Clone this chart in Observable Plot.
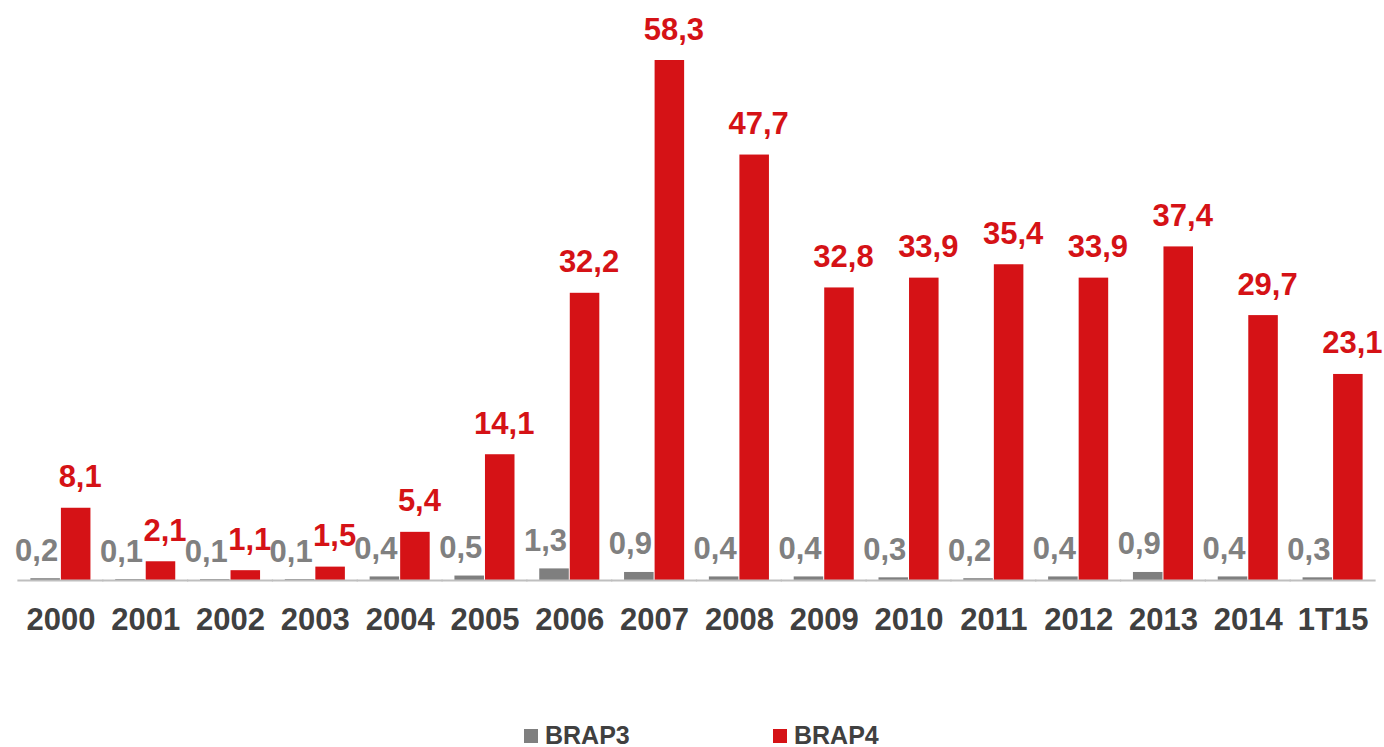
<!DOCTYPE html>
<html>
<head>
<meta charset="utf-8">
<script src="https://cdn.jsdelivr.net/npm/d3@7"></script>
<script src="https://cdn.jsdelivr.net/npm/@observablehq/plot@0.6"></script>
<style>
  html, body { margin: 0; padding: 0; background: #fff; }
  body { width: 1384px; height: 747px; overflow: hidden; font-family: "Liberation Sans", Arial, sans-serif; }
  #chart svg { display: block; }
  #legend { position: relative; height: 35px; }
  .item { position: absolute; top: 11px; display: flex; align-items: center; font-weight: bold; font-size: 25px; color: #404040; line-height: 25px; }
  .sw { width: 14px; height: 14px; margin-right: 7px; }
</style>
</head>
<body>
<div id="chart"></div>
<div id="legend"></div>
<script>
const categories = ["2000","2001","2002","2003","2004","2005","2006","2007","2008","2009","2010","2011","2012","2013","2014","1T15"];
const seriesNames = ["BRAP3", "BRAP4"];
const brap3 = [0.2,0.1,0.1,0.1,0.4,0.5,1.3,0.9,0.4,0.4,0.3,0.2,0.4,0.9,0.4,0.3];
const brap4 = [8.1,2.1,1.1,1.5,5.4,14.1,32.2,58.3,47.7,32.8,33.9,35.4,33.9,37.4,29.7,23.1];
const colors = ["#7f7f7f", "#d51216"];
const labelColors = ["#808080", "#d51216"];

const data = [];
categories.forEach((c, i) => {
  data.push({year: c, series: seriesNames[0], value: brap3[i]});
  data.push({year: c, series: seriesNames[1], value: brap4[i]});
});
const fmt = v => v.toFixed(1).replace(".", ",");
const font = "Liberation Sans, Arial, sans-serif";

const chart = Plot.plot({
  width: 1384,
  height: 712,
  marginTop: 60,
  marginBottom: 132,
  marginLeft: 18,
  marginRight: 9,
  style: {fontFamily: font, background: "#fff"},
  fx: {domain: categories, paddingInner: 0.28, paddingOuter: 0.14, round: false, label: null},
  x: {domain: seriesNames, padding: 0, round: false, axis: null},
  y: {domain: [0, 58.3], axis: null},
  color: {domain: seriesNames, range: colors},
  marks: [
    Plot.barY(data, {fx: "year", x: "series", y: "value", fill: "series", insetLeft: 0.5, insetRight: 0.5}),
    Plot.ruleY([0], {stroke: "#bfbfbf", strokeWidth: 2, insetLeft: -12.5, insetRight: -12.5}),
    Plot.text(data.filter(d => d.series === seriesNames[0]), {
      fx: "year", x: "series", y: "value", text: d => fmt(d.value),
      lineAnchor: "bottom", dy: -18, dx: -9, fill: labelColors[0],
      fontSize: 31, fontWeight: "bold", fontFamily: font
    }),
    Plot.text(data.filter(d => d.series === seriesNames[1]), {
      fx: "year", x: "series", y: "value", text: d => fmt(d.value),
      lineAnchor: "bottom", dy: -21, dx: 4, fill: labelColors[1],
      fontSize: 31, fontWeight: "bold", fontFamily: font
    }),
    Plot.axisFx({anchor: "bottom", tickSize: 0, tickPadding: 27, fontSize: 31, fontWeight: "bold", fill: "#404040", label: null})
  ]
});
document.getElementById("chart").appendChild(chart);

const legend = document.getElementById("legend");
const lefts = [524, 773];
seriesNames.forEach((s, i) => {
  const it = document.createElement("div");
  it.className = "item";
  it.style.left = lefts[i] + "px";
  it.innerHTML = `<span class="sw" style="background:${colors[i]}"></span><span>${s}</span>`;
  legend.appendChild(it);
});
</script>
</body>
</html>
